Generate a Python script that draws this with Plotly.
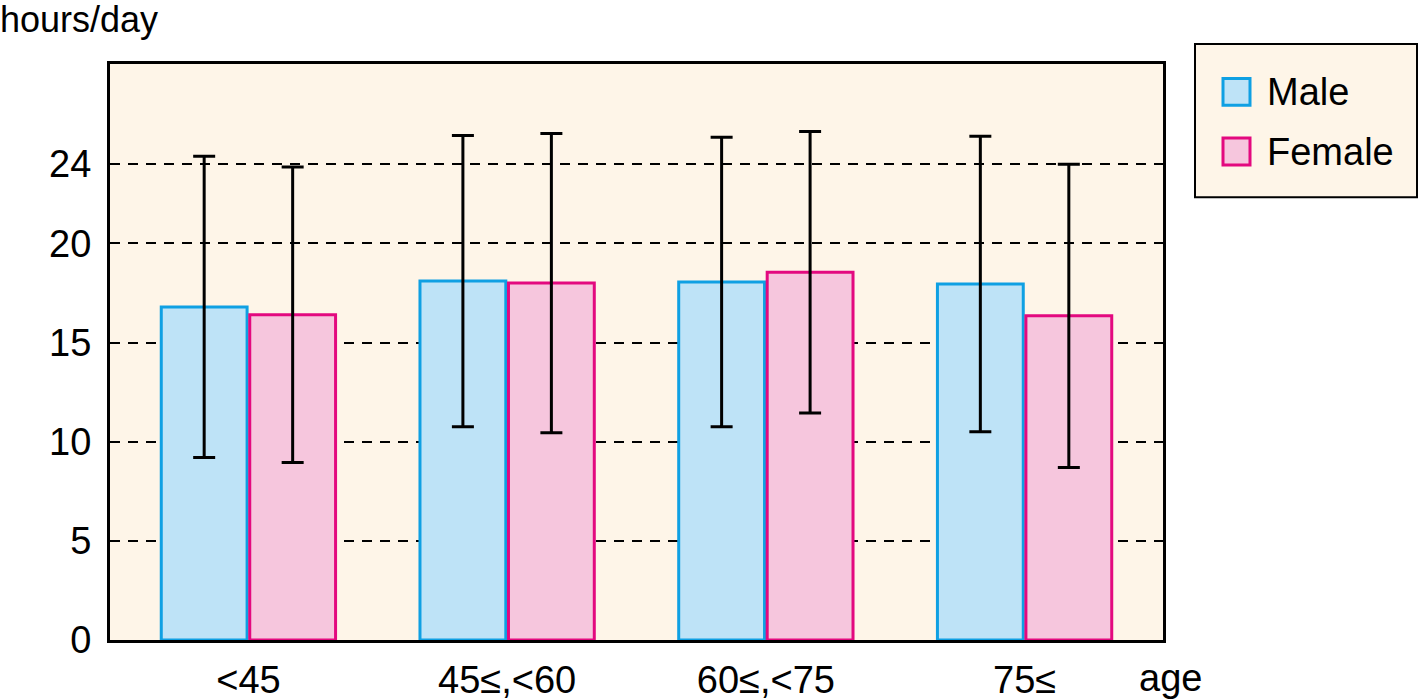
import plotly.graph_objects as go

categories = ["<45", "45≤,<60", "60≤,<75", "75≤"]
male_mean = [16.8, 18.1, 18.05, 17.95]
male_sd = [7.6, 7.35, 7.3, 7.45]
female_mean = [16.4, 18.0, 18.55, 16.35]
female_sd = [7.45, 7.55, 7.1, 7.65]
y_ticks = [0, 5, 10, 15, 20, 24]

MALE_FILL, MALE_LINE = "#BEE3F7", "#0FA0E3"
FEMALE_FILL, FEMALE_LINE = "#F6C6DD", "#E3097F"
BG = "#FEF5E8"
FONT = "Liberation Sans, Arial, sans-serif"

# target layout in reference pixels (1419x699): plot x 110..1163, y 63..642
W, H_REF = 1419, 699
H = 713              # rendered viewport height (screenshot is rescaled to 699)
S = H / H_REF
L, R, T, B = 110, 1163, 63, 642
def px(x):
    return (x - L) / (R - L)
def py(y):
    return (B - y) / (B - T)

x_idx = list(range(len(categories)))

fig = go.Figure()
fig.add_trace(go.Bar(
    x=x_idx, y=male_mean, name="Male",
    marker=dict(color=MALE_FILL, line=dict(color=MALE_LINE, width=3)),
    error_y=dict(type="data", array=male_sd, color="black", thickness=3, width=11),
))
fig.add_trace(go.Bar(
    x=x_idx, y=female_mean, name="Female",
    marker=dict(color=FEMALE_FILL, line=dict(color=FEMALE_LINE, width=3)),
    error_y=dict(type="data", array=female_sd, color="black", thickness=3, width=11),
))

fig.update_layout(
    width=W, height=H,
    margin=dict(l=L, r=W - R, t=round(T * S), b=round((H_REF - B) * S), pad=0),
    paper_bgcolor="white", plot_bgcolor=BG,
    barmode="group", bargap=0.316, bargroupgap=0.03,
    showlegend=False,
    font=dict(family=FONT, size=37, color="black"),
)
fig.update_xaxes(
    range=[-0.535, 3.535], tickmode="array", tickvals=x_idx, ticktext=categories,
    showline=True, linecolor="black", linewidth=3, mirror=True,
    showgrid=False, zeroline=False, ticks="outside", ticklen=4, tickcolor="rgba(0,0,0,0)",
    tickfont=dict(size=38),
)
fig.update_yaxes(
    range=[0, 29.05], tickmode="array", tickvals=y_ticks,
    showline=True, linecolor="black", linewidth=3, mirror=True,
    showgrid=True, gridcolor="black", gridwidth=2, griddash="10px,8px",
    zeroline=False, ticks="outside", ticklen=8, tickcolor="rgba(0,0,0,0)",
    tickfont=dict(size=38),
)

# axis titles
fig.add_annotation(text="hours/day", xref="paper", yref="paper", x=px(-2), y=py(18),
                   xanchor="left", yanchor="middle", showarrow=False, font=dict(size=36))
fig.add_annotation(text="age", xref="paper", yref="paper", x=px(1170), y=py(680),
                   xanchor="center", yanchor="middle", showarrow=False, font=dict(size=38))

# legend box
fig.add_shape(type="rect", xref="paper", yref="paper", x0=px(1195), x1=px(1417), y0=py(197), y1=py(43),
              line=dict(color="black", width=2), fillcolor=BG, layer="above")
for name, fill, line, yc in [("Male", MALE_FILL, MALE_LINE, 91), ("Female", FEMALE_FILL, FEMALE_LINE, 151)]:
    fig.add_shape(type="rect", xref="paper", yref="paper", x0=px(1223), x1=px(1250),
                  y0=py(yc + 13.5), y1=py(yc - 13.5), line=dict(color=line, width=3), fillcolor=fill, layer="above")
    fig.add_annotation(text=name, xref="paper", yref="paper", x=px(1265), y=py(yc),
                       xanchor="left", yanchor="middle", showarrow=False, font=dict(size=38))

fig.write_html(
    "out.html",
    config={"displayModeBar": False},
    post_script=(
        "document.documentElement.style.margin='0';document.documentElement.style.overflow='hidden';"
        "document.body.style.margin='0';document.body.style.overflow='hidden';"
    ),
)
